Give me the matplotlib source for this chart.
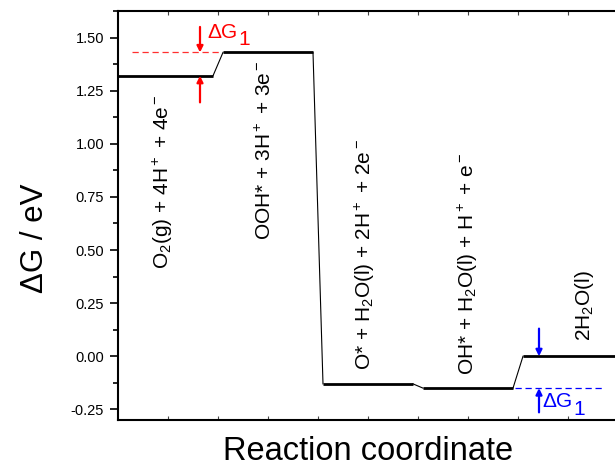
import matplotlib
matplotlib.use('Agg')
import matplotlib.pyplot as plt

plt.rcParams['font.family'] = ['Liberation Sans', 'DejaVu Sans']
plt.rcParams['mathtext.fontset'] = 'custom'
plt.rcParams['mathtext.rm'] = 'Liberation Sans'
plt.rcParams['mathtext.it'] = 'Liberation Sans:italic'
plt.rcParams['mathtext.bf'] = 'Liberation Sans:bold'

# free energy of each intermediate (eV)
energies = [1.32, 1.43, -0.13, -0.15, 0.00]
species = [r'O$_2$(g) + 4H$^+$ + 4e$^-$',
           r'OOH* + 3H$^+$ + 3e$^-$',
           r'O* + H$_2$O(l) + 2H$^+$ + 2e$^-$',
           r'OH* + H$_2$O(l) + H$^+$ + e$^-$',
           r'2H$_2$O(l)']
yticks = [-0.25, 0.00, 0.25, 0.50, 0.75, 1.00, 1.25, 1.50]

fig = plt.figure(figsize=(6.15, 4.72), dpi=100)
ax = fig.add_axes([118/615, 52/472, 500/615, 409/472])

# horizontal levels + thin connectors
n = len(energies)
for k, g in enumerate(energies):
    x0 = 0.0 if k == 0 else k + 0.05
    x1 = k + 0.95 if k < n - 1 else 5.2
    ax.plot([x0, x1], [g, g], color='black', lw=2.0, solid_capstyle='butt')
    if k < n - 1:
        ax.plot([k + 0.95, k + 1.05], [g, energies[k + 1]], color='black', lw=0.8)

# species labels (rotated)
lab_x = [0.45, 1.47, 2.47, 3.50, 4.66]
lab_y = [0.41, 0.546, -0.065, -0.088, 0.074]
for s, x, y in zip(species, lab_x, lab_y):
    ax.text(x, y, s, rotation=90, ha='center', va='bottom', fontsize=15)


def dg_label(x, y, color):
    # Origin-style: the subscript "1" is as large as the main text
    ax.text(x, y, 'ΔG', color=color, fontsize=15, va='baseline')
    ax.annotate('1', xy=(x, y), xytext=(22.3, -5.5), textcoords='offset points',
                color=color, fontsize=15, va='baseline')


arr = dict(arrowstyle='-|>', lw=1.6, mutation_scale=9, shrinkA=0, shrinkB=0)

# red ΔG1 marker (first step)
ax.plot([0.14, 1.04], [energies[1], energies[1]], color='#ff3030', lw=0.9,
        linestyle=(0, (5, 3)))
ax.annotate('', xy=(0.82, energies[1]), xytext=(0.82, 1.55),
            arrowprops=dict(arr, color='red'))
ax.annotate('', xy=(0.82, energies[0]), xytext=(0.82, 1.195),
            arrowprops=dict(arr, color='red'))
dg_label(0.895, 1.50, 'red')

# blue ΔG1 marker (last step)
ax.plot([3.97, 4.87], [energies[3], energies[3]], color='#0000ff', lw=0.9,
        linestyle=(0, (5, 3)))
ax.annotate('', xy=(4.21, energies[4]), xytext=(4.21, 0.13),
            arrowprops=dict(arr, color='blue'))
ax.annotate('', xy=(4.21, energies[3]), xytext=(4.21, -0.264),
            arrowprops=dict(arr, color='blue'))
dg_label(4.245, -0.24, 'blue')

ax.set_xlim(0, 5.0)
ax.set_ylim(-0.30, 1.60)
ax.set_yticks(yticks)
ax.set_yticklabels([f'{v:.2f}' for v in yticks], fontsize=10.5)
ax.set_yticks([v + 0.125 for v in yticks], minor=True)
ax.set_xticks([0.5 * i for i in range(1, 10)])
ax.set_xticklabels([])
ax.tick_params(axis='y', which='major', direction='out', length=6, width=1.2, pad=4)
ax.tick_params(axis='y', which='minor', direction='out', length=3.5, width=1.2)
ax.tick_params(axis='x', which='major', direction='in', length=3, width=0.8,
               top=True, colors='#444444')
for sp in ax.spines.values():
    sp.set_linewidth(1.5)

ax.set_xlabel('Reaction coordinate', fontsize=23.5, labelpad=8)
fig.text(35/615, 1 - 238/472, 'ΔG / eV', rotation=90, ha='center', va='center',
         fontsize=22.5)

fig.savefig('out.png', dpi=100)
